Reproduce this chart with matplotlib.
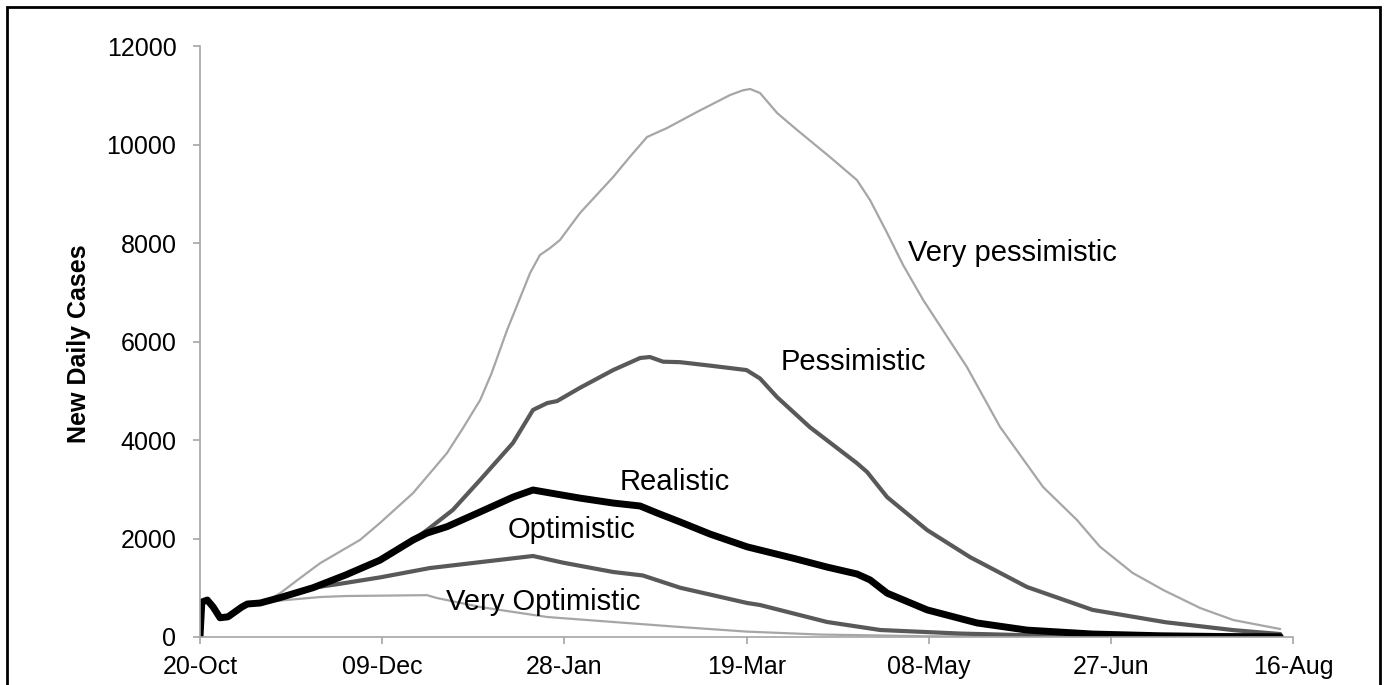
import matplotlib
matplotlib.use('Agg')
import matplotlib.pyplot as plt
from matplotlib.patches import Rectangle

plt.rcParams['font.family'] = ['Liberation Sans', 'DejaVu Sans']

# x axis: days since 20-Oct, ticks every 50 days
tick_days = [0, 50, 100, 150, 200, 250, 300]
tick_labels = ['20-Oct', '09-Dec', '28-Jan', '19-Mar', '08-May', '27-Jun', '16-Aug']

# shared start of all scenarios (first ~2 weeks)
start_days = [0, 0.5, 2, 3.6, 5.5, 7.7, 11.5, 13, 16.5]
start_vals = [0, 710, 750, 610, 390, 410, 610, 670, 690]

# scenario curves
vpess_days = start_days + [19, 22, 27, 33, 43.9, 49.4, 58.5, 67.8, 72, 76.9, 80, 84.3, 90.6, 93.3, 96.1,
                           98.8, 104.3, 113.4, 118, 122.7, 128.2, 136.4, 145.5, 149, 151,
                           153.7, 158.4, 163.9, 172.9, 180.3, 183.9, 188.6, 193, 198.5, 210.5,
                           219.6, 231.4, 240.7, 247, 256, 264.5, 274.5, 283.6, 296.5]
vpess_vals = start_vals + [760, 890, 1170, 1500, 1970, 2315, 2924, 3736, 4220, 4812, 5350, 6234, 7391, 7756, 7898,
                           8061, 8609, 9340, 9750, 10152, 10335, 10660, 11005, 11100, 11127,
                           11046, 10640, 10294, 9746, 9279, 8873, 8203, 7550, 6843, 5482,
                           4264, 3046, 2376, 1834, 1300, 950, 589, 345, 162]

pess_days = start_days + [22, 31, 40, 49.4, 58.5, 62.3, 69.4, 76.9, 85.9, 91.4, 95.3, 98,
                          104.3, 113.4, 120.8, 123.5, 127.1, 131.8, 140, 150, 153.7, 158.4,
                          167.4, 180.3, 183.1, 188.6, 199.6, 211.4, 227, 245, 265, 283.6, 296.5]
pess_vals = start_vals + [800, 1000, 1270, 1580, 1970, 2170, 2580, 3190, 3940, 4610, 4750, 4790,
                          5060, 5420, 5665, 5685, 5590, 5580, 5510, 5420, 5250, 4870,
                          4260, 3530, 3350, 2840, 2170, 1620, 1015, 550, 300, 140, 60]

real_days = start_days + [22, 31, 40, 49.4, 58.5, 62.3, 67.8, 76.9, 85.9, 91.4, 98, 104.3,
                          113.4, 120.8, 125.4, 131.8, 140, 150.2, 162.8, 172.1, 180.3, 183.9,
                          188.6, 199.6, 213.3, 227, 245, 263.5, 280, 296.5]
real_vals = start_vals + [800, 1000, 1260, 1560, 1970, 2110, 2240, 2540, 2840, 2985, 2900, 2820,
                          2720, 2660, 2520, 2335, 2090, 1830, 1600, 1420, 1280, 1160,
                          890, 550, 285, 140, 60, 25, 10, 5]

opt_days = start_days + [22, 31, 33.8, 38.4, 49.4, 63.1, 76.9, 91.4, 99.6, 113.4, 121.5,
                         131.8, 150.2, 153.7, 172.1, 186.7, 208.6, 230, 260, 296.5]
opt_vals = start_vals + [800, 1000, 1030, 1080, 1210, 1400, 1520, 1645, 1510, 1320, 1250,
                         1000, 690, 650, 305, 142, 70, 30, 10, 3]

vopt_days = start_days + [22, 33, 40, 50, 62.3, 65, 76.9, 95.3, 113.4, 131.8, 150, 170,
                          200, 240, 296.5]
vopt_vals = start_vals + [740, 812, 832, 840, 850, 792, 609, 406, 305, 203, 110, 50,
                          15, 3, 0]

# label placement (day, cases)
labels = [('Very pessimistic', 223, 7800),
          ('Pessimistic', 179.3, 5580),
          ('Realistic', 130.4, 3150),
          ('Optimistic', 102.1, 2170),
          ('Very Optimistic', 94.2, 710)]

fig = plt.figure(figsize=(13.88, 6.85), dpi=100)
ax = fig.add_axes([200 / 1388, 48 / 685, 1093 / 1388, 591 / 685])

light = '#a6a6a6'
dark = '#595959'
style = dict(solid_capstyle='round', solid_joinstyle='round')
ax.plot(vopt_days, vopt_vals, color=light, lw=1.6, **style)
ax.plot(opt_days, opt_vals, color=dark, lw=3, **style)
ax.plot(vpess_days, vpess_vals, color=light, lw=1.6, **style)
ax.plot(pess_days, pess_vals, color=dark, lw=3, **style)
ax.plot(real_days, real_vals, color='black', lw=5, **style)

for text, x, y in labels:
    ax.text(x, y, text, fontsize=21, ha='center', va='center')

ax.set_xlim(0, 300)
ax.set_ylim(0, 12000)
ax.set_xticks(tick_days)
ax.set_xticklabels(tick_labels)
ax.set_yticks(range(0, 12001, 2000))

for side in ['top', 'right']:
    ax.spines[side].set_visible(False)
for side in ['left', 'bottom']:
    ax.spines[side].set_color('#a6a6a6')
    ax.spines[side].set_linewidth(1.2)
ax.tick_params(axis='both', direction='out', length=5, width=1.2, color='#a6a6a6',
               labelsize=18)
ax.tick_params(axis='y', pad=12)
ax.tick_params(axis='x', pad=8)

ax.set_ylabel('New Daily Cases', fontsize=18, fontweight='bold')
ax.yaxis.set_label_coords(-0.1, 0.497)

# outer frame (bottom edge is cut off in the original)
fig.patches.append(Rectangle((7 / 1388, -0.05), 1373 / 1388, 1 - 7 / 685 + 0.05,
                             transform=fig.transFigure, fill=False, ec='black', lw=2))

fig.savefig('out.png', dpi=100)
